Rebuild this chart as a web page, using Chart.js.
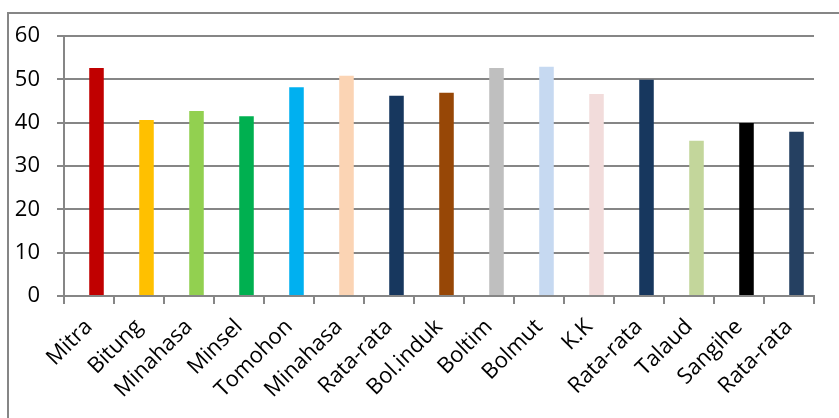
<!DOCTYPE html>
<html>
<head>
<meta charset="utf-8">
<script src="https://cdn.jsdelivr.net/npm/chart.js@4.4.1/dist/chart.umd.min.js"></script>
<style>
  html, body { margin: 0; padding: 0; background: #fff; }
  #wrap { position: relative; width: 839px; height: 418px; overflow: hidden; }
  #frame {
    position: absolute; left: 7px; top: 12px; width: 900px; height: 500px;
    border-left: 2px solid #868686; border-top: 2px solid #868686;
  }
  canvas { position: absolute; left: 0; top: 0; }
</style>
</head>
<body>
<div id="wrap">
  <div id="frame"></div>
  <canvas id="chart" width="839" height="418"></canvas>
</div>
<script>
// Categories (regions) along the x axis
const labels = [
  "Mitra", "Bitung", "Minahasa", "Minsel", "Tomohon", "Minahasa", "Rata-rata",
  "Bol.induk", "Boltim", "Bolmut", "K.K", "Rata-rata", "Talaud", "Sangihe", "Rata-rata"
];

// Values
const values = [52.6, 40.6, 42.7, 41.5, 48.2, 50.8, 46.2, 46.9, 52.6, 52.9, 46.6, 49.9, 35.8, 39.9, 37.9];

// Empty companion series: the original Excel chart had an extra (blank) series,
// which is what pushes each bar right of its category centre
const blankSeries = values.map(() => null);

// One colour per bar
const barColors = [
  "#C00000", "#FFC000", "#92D050", "#00B050", "#00B0F0", "#FBD4B4", "#17375E",
  "#974706", "#BFBFBF", "#C6D9F1", "#F2DCDB", "#17375E", "#C3D69B", "#000000", "#254061"
];

const yTicks = { min: 0, max: 60, step: 10 };

const gridColor = "#868686";
const fontFamily = "'Open Sans', 'DejaVu Sans', sans-serif";

const ctx = document.getElementById("chart").getContext("2d");

new Chart(ctx, {
  type: "bar",
  data: {
    labels: labels,
    datasets: [
      {
        label: "",
        data: blankSeries,
        backgroundColor: "rgba(0,0,0,0)",
        categoryPercentage: 0.6,
        barPercentage: 0.97,
      },
      {
        label: "Nilai",
        data: values,
        backgroundColor: barColors,
        borderWidth: 0,
        categoryPercentage: 0.6,
        barPercentage: 0.97,
      },
    ],
  },
  options: {
    responsive: false,
    animation: false,
    layout: {
      padding: { left: 0, right: 25, top: 36, bottom: 0 },
    },
    plugins: {
      legend: { display: false },
      tooltip: { enabled: false },
      title: { display: false },
    },
    scales: {
      x: {
        grid: {
          offset: true,
          drawOnChartArea: false,
          drawTicks: true,
          tickLength: 8,
          color: gridColor,
          lineWidth: 2,
        },
        border: { color: gridColor, width: 2 },
        ticks: {
          maxRotation: 45,
          minRotation: 45,
          autoSkip: false,
          color: "#000",
          padding: 10,
          font: { family: fontFamily, size: 22 },
        },
        afterFit: (scale) => {
          scale.height = 122;
        },
      },
      y: {
        min: yTicks.min,
        max: yTicks.max,
        grid: {
          color: gridColor,
          lineWidth: 2,
          tickLength: 7,
        },
        border: { color: gridColor, width: 2 },
        ticks: {
          stepSize: yTicks.step,
          color: "#000",
          padding: 17,
          font: { family: fontFamily, size: 22 },
        },
        afterFit: (scale) => {
          scale.width = 64;
        },
      },
    },
  },
});
</script>
</body>
</html>
